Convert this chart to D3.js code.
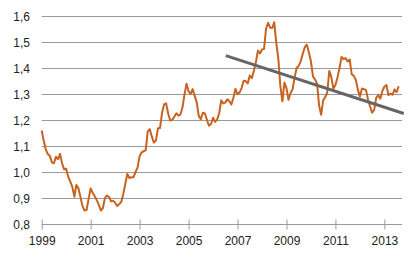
<!DOCTYPE html>
<html><head><meta charset="utf-8">
<script src="https://cdn.jsdelivr.net/npm/d3@7"></script>
<style>body{margin:0;background:#fff}svg{display:block}</style>
</head><body>
<svg id="c" width="414" height="257"></svg>
<script>
const startYear = 1999;
// Monthly values, Jan 1999 - Aug 2013
const values = [
1.161,1.121,1.088,1.070,1.063,1.038,1.035,1.060,1.050,1.071,1.034,1.011,
1.014,0.983,0.964,0.945,0.906,0.951,0.939,0.905,0.870,0.853,0.855,0.898,
0.938,0.921,0.908,0.893,0.875,0.853,0.862,0.901,0.911,0.905,0.888,0.891,
0.883,0.871,0.877,0.886,0.917,0.956,0.994,0.978,0.981,0.981,1.001,1.018,
1.062,1.077,1.081,1.085,1.158,1.166,1.137,1.114,1.122,1.169,1.170,1.229,
1.261,1.265,1.226,1.199,1.201,1.214,1.227,1.218,1.222,1.249,1.299,1.341,
1.312,1.301,1.320,1.294,1.269,1.217,1.204,1.229,1.226,1.202,1.179,1.186,
1.210,1.194,1.202,1.227,1.277,1.265,1.268,1.281,1.273,1.261,1.288,1.321,
1.300,1.307,1.324,1.352,1.351,1.342,1.372,1.362,1.390,1.423,1.468,1.457,
1.472,1.475,1.553,1.575,1.556,1.555,1.577,1.498,1.437,1.332,1.273,1.345,
1.324,1.279,1.305,1.319,1.365,1.402,1.409,1.427,1.456,1.482,1.491,1.461,
1.427,1.369,1.357,1.341,1.257,1.221,1.277,1.289,1.307,1.390,1.366,1.322,
1.336,1.365,1.400,1.444,1.435,1.439,1.426,1.434,1.377,1.371,1.356,1.318,
1.291,1.322,1.320,1.316,1.279,1.253,1.229,1.240,1.286,1.297,1.283,1.312,
1.329,1.336,1.296,1.303,1.298,1.319,1.308,1.331
];
const trendX = [2006.52, 2013.79];
const trendY = [1.449, 1.226];
const yTicks = [0.8,0.9,1.0,1.1,1.2,1.3,1.4,1.5,1.6];
const xTicks = [1999,2001,2003,2005,2007,2009,2011,2013];

const svg = d3.select("#c");
const x = d3.scaleLinear().domain([1999, 2013.72]).range([41.7, 402]);
const y = d3.scaleLinear().domain([0.8, 1.6]).range([224.3, 16.3]);
const fmt = v => v.toFixed(1).replace(".", ",");

// gridlines
svg.append("g").selectAll("line").data(yTicks.filter(v => v > 0.8)).join("line")
  .attr("x1", 41.7).attr("x2", 402).attr("y1", d => Math.round(y(d)) + 0.5).attr("y2", d => Math.round(y(d)) + 0.5)
  .attr("stroke", "#9a9a9a").attr("stroke-width", 1);

// y labels
svg.append("g").selectAll("text").data(yTicks).join("text")
  .attr("x", 30).attr("y", d => y(d) + 4.3).attr("text-anchor", "end")
  .attr("font-family", "Liberation Sans, Arial, sans-serif").attr("font-size", 12).attr("fill", "#222")
  .text(fmt);

// x axis
const xAxis = d3.axisBottom(x).tickValues(xTicks).tickSize(0).tickFormat(d3.format("d"));
const gx = svg.append("g").attr("transform", `translate(0,${Math.round(y(0.8)) + 0.5})`).call(xAxis);
gx.select(".domain").attr("stroke", "#9a9a9a").attr("d", `M41.7,0H402`);
gx.selectAll(".tick line").remove();
gx.selectAll(".tick").append("line").attr("y1", -5).attr("y2", 5).attr("stroke", "#9a9a9a");
gx.selectAll(".tick text").attr("y", 0).attr("dy", "20.5")
  .attr("font-family", "Liberation Sans, Arial, sans-serif").attr("font-size", 12).attr("fill", "#222");

// series
const line = d3.line().x((d, i) => x(startYear + i / 12)).y(d => y(d));
svg.append("path").datum(values).attr("d", line)
  .attr("fill", "none").attr("stroke", "#c8621e").attr("stroke-width", 2).attr("stroke-linejoin", "round");

// trend
svg.append("line")
  .attr("x1", x(trendX[0])).attr("y1", y(trendY[0])).attr("x2", x(trendX[1])).attr("y2", y(trendY[1]))
  .attr("stroke", "#666").attr("stroke-width", 3);
</script>
</body></html>
